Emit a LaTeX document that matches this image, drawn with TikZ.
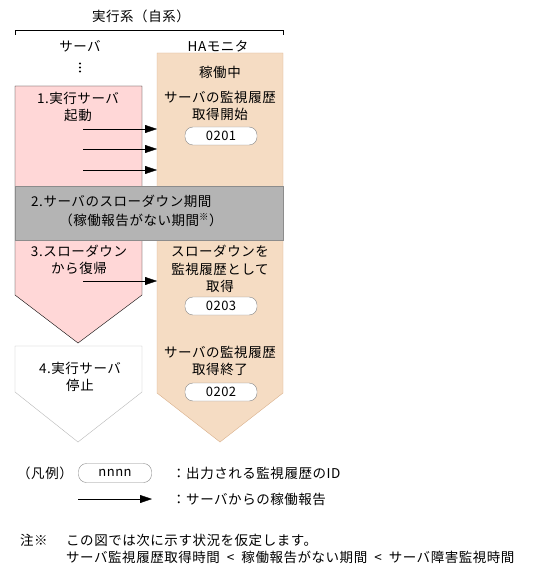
\documentclass[tikz,border=0pt]{standalone}
\usepackage{fontspec}
\setmainfont[LetterSpace=4]{Noto Sans CJK JP}
\usetikzlibrary{arrows.meta, positioning}
\definecolor{srvpink}{HTML}{FFD7D7}
\definecolor{habeige}{HTML}{F5DCC3}
\definecolor{haedge}{HTML}{D9B08C}
\definecolor{bandgray}{HTML}{B4B4B4}
\definecolor{bandedge}{HTML}{8C8C8C}
\definecolor{idedge}{HTML}{888888}
\definecolor{stopedge}{HTML}{B8B8B8}
\newcommand{\lessgap}{\hspace{7pt}<\hspace{7pt}}
\tikzset{
  lbl/.style={font=\fontsize{13.5}{17.5}\selectfont, align=center, inner sep=0pt},
  idtag/.style={draw=idedge, fill=white, rounded corners=8pt, minimum width=72pt,
                minimum height=18pt, inner sep=0pt, font=\fontsize{13}{15}\selectfont},
  report/.style={-{Triangle[length=12pt,width=8pt]}, thin, color=black},
}
\begin{document}
\begin{tikzpicture}[x=1pt,y=-1pt]
\useasboundingbox (0,0) rectangle (548,577);
% columns
\draw[fill=srvpink] (15,86) -- (142,86) -- (142,295) -- (78,343) -- (15,295) -- cycle;
\draw[draw=haedge,fill=habeige] (157,53) -- (283,53) -- (283,393) -- (220,442) -- (157,393) -- cycle;
\draw[draw=stopedge,fill=white] (15,346) -- (142,346) -- (142,392) -- (78,442) -- (15,392) -- cycle;
\draw[draw=bandedge,fill=bandgray] (15,186) rectangle (283,240);
\draw (15,35) -- (15,30) -- (283,30) -- (283,35);
\coordinate (haleft) at (157,0);
% headings
\node[lbl] (title) at (141,16) {実行系（自系）};
\node[lbl] (srvhead) at (80,46) {サーバ};
\node[lbl] (hahead) at (218,46) {HAモニタ};
\foreach \y in {63.5,67.5,71.5}
  \fill (80,\y) circle[radius=1.1pt];
% server side
\node[lbl] (boot) at (78,107) {1.実行サーバ\\起動};
\node[lbl] (recover) at (79,260) {3.スローダウン\\から復帰};
\node[lbl] (stop) at (80,377) {4.実行サーバ\\停止};
% HA monitor side
\node[lbl] (running) at (220,72) {稼働中};
\node[lbl] (getstart) at (220,106) {サーバの監視履歴\\取得開始};
\node[idtag] (id0201) at (221,136) {0201};
\node[lbl] (gotslow) at (220,269) {スローダウンを\\監視履歴として\\取得};
\node[idtag] (id0203) at (221,306) {0203};
\node[lbl] (getend) at (220,361) {サーバの監視履歴\\取得終了};
\node[idtag] (id0202) at (221,392) {0202};
% slowdown band
\node[lbl,anchor=west] (slow) at (31,201) {2.サーバのスローダウン期間};
\node[lbl] (noreport) at (141,220) {（稼働報告がない期間\textsuperscript{※}）};
% reports
\coordinate (r1) at (83,129);
\coordinate (r2) at (83,149);
\coordinate (r3) at (83,170);
\coordinate (r4) at (83,281);
\foreach \r in {r1,r2,r3,r4}
  \draw[report] (\r) -- (\r -| haleft);
% legend
\node[lbl,anchor=west] (legend) at (17,473) {（凡例）};
\node[idtag,minimum width=73pt,minimum height=19pt] (idsample) at (115,473) {nnnn};
\node[lbl,anchor=west] (idnote) at (172,473) {：出力される監視履歴のID};
\coordinate (lgs) at (78,499);
\coordinate (lge) at (152,499);
\draw[report] (lgs) -- (lge);
\node[lbl,anchor=west] (arrownote) at (172,499) {：サーバからの稼働報告};
% note
\node[lbl,anchor=west] (notemark) at (20,540) {注※};
\node[lbl,anchor=west] (note1) at (66,540) {この図では次に示す状況を仮定します。};
\node[lbl,anchor=west] (note2) at (66,557) {サーバ監視履歴取得時間\lessgap 稼働報告がない期間\lessgap サーバ障害監視時間};
\end{tikzpicture}
\end{document}
